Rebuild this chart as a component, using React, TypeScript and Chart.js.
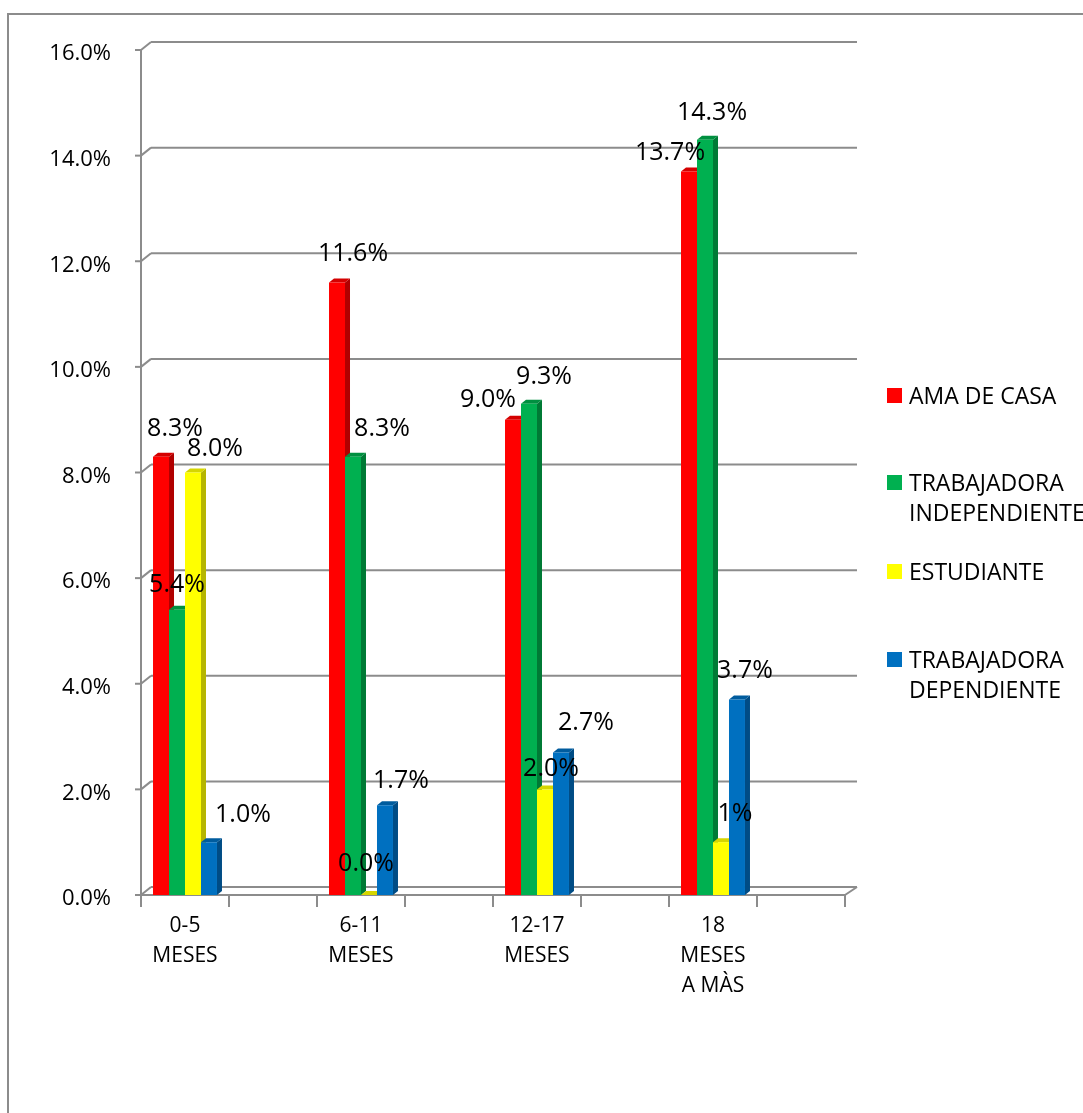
import React, { useEffect, useRef } from 'react';
import { Chart, registerables } from 'chart.js';

Chart.register(...registerables);

// ---------- data ----------
const CATEGORIES: (string | string[])[] = [
  ['0-5', 'MESES'], '',
  ['6-11', 'MESES'], '',
  ['12-17', 'MESES'], '',
  ['18', 'MESES', 'A MÀS'], '',
];
const SERIES_NAMES = ['AMA DE CASA', 'TRABAJADORA INDEPENDIENTE', 'ESTUDIANTE', 'TRABAJADORA DEPENDIENTE'];
const AMA_DE_CASA = [8.3, null, 11.6, null, 9.0, null, 13.7, null];
const TRAB_INDEPENDIENTE = [5.4, null, 8.3, null, 9.3, null, 14.3, null];
const ESTUDIANTE = [8.0, null, 0.0, null, 2.0, null, 1.0, null];
const TRAB_DEPENDIENTE = [1.0, null, 1.7, null, 2.7, null, 3.7, null];
const Y_MIN = 0;
const Y_MAX = 16;
const Y_STEP = 2;
// label text override (series index - category index)
const LABEL_TEXT_OVERRIDE: Record<string, string> = { '2-6': '1%' };

// ---------- style ----------
const FRONT = ['#FF0000', '#00B050', '#FFFF00', '#0070C0'];
const SIDE = ['#B00000', '#007A35', '#B5B500', '#004C85'];
const TOP = ['#D40000', '#009040', '#D6D600', '#005C9E'];
const GRID = '#8C8C8C';
const FONT = 'Open Sans';
const DX = 5;
const DY = 4;
const BACK_X = 10;
const BACK_Y = 8;
// label nudges [dx, dy] relative to bar centre / bar top, per series, per category
const LABEL_NUDGE: Record<string, [number, number]> = {
  '0-0': [14, -28], '0-2': [16, -29], '0-4': [-25, -20], '0-6': [-19, -19],
  '1-0': [0, -25], '1-2': [29, -28], '1-4': [15, -27], '1-6': [7, -27],
  '2-0': [22, -24], '2-2': [-3, -31], '2-4': [6, -21], '2-6': [14, -28],
  '3-0': [34, -27], '3-2': [16, -24], '3-4': [25, -30], '3-6': [8, -29],
};

const depthPlugin = {
  id: 'depth3d',
  beforeDatasetsDraw(chart: any) {
    const { ctx, chartArea } = chart;
    const { left, right, bottom } = chartArea;
    const ys = chart.scales.y;
    ctx.save();
    ctx.strokeStyle = GRID;
    ctx.lineWidth = 2;
    const line = (x1: number, y1: number, x2: number, y2: number) => {
      ctx.beginPath();
      ctx.moveTo(x1, y1);
      ctx.lineTo(x2, y2);
      ctx.stroke();
    };
    ys.ticks.forEach((t: any) => {
      const py = ys.getPixelForValue(t.value);
      line(left + BACK_X, py - BACK_Y, right + BACK_X + 2, py - BACK_Y);
      line(left, py, left + BACK_X, py - BACK_Y);
      line(left - 6, py, left, py);
    });
    line(right, bottom, right + BACK_X + 2, bottom - BACK_Y);

    chart.data.datasets.forEach((ds: any, di: number) => {
      const meta = chart.getDatasetMeta(di);
      meta.data.forEach((bar: any, i: number) => {
        if (ds.data[i] == null) return;
        const p = bar.getProps(['x', 'y', 'base', 'width'], true);
        const l = p.x - p.width / 2;
        const r = p.x + p.width / 2;
        ctx.fillStyle = SIDE[di];
        ctx.beginPath();
        ctx.moveTo(r, p.y);
        ctx.lineTo(r + DX, p.y - DY);
        ctx.lineTo(r + DX, p.base - DY);
        ctx.lineTo(r, p.base);
        ctx.closePath();
        ctx.fill();
        ctx.fillStyle = TOP[di];
        ctx.beginPath();
        ctx.moveTo(l, p.y);
        ctx.lineTo(l + DX, p.y - DY);
        ctx.lineTo(r + DX, p.y - DY);
        ctx.lineTo(r, p.y);
        ctx.closePath();
        ctx.fill();
      });
    });
    ctx.restore();
  },
  afterDatasetsDraw(chart: any) {
    const { ctx } = chart;
    ctx.save();
    ctx.fillStyle = '#000';
    ctx.font = `25px "${FONT}"`;
    ctx.textAlign = 'center';
    ctx.textBaseline = 'middle';
    chart.data.datasets.forEach((ds: any, di: number) => {
      const meta = chart.getDatasetMeta(di);
      meta.data.forEach((bar: any, i: number) => {
        const v = ds.data[i];
        if (v == null) return;
        const key = `${di}-${i}`;
        const text = LABEL_TEXT_OVERRIDE[key] ?? `${v.toFixed(1)}%`;
        const [nx, ny] = LABEL_NUDGE[key] ?? [0, -25];
        ctx.fillText(text, bar.x + nx, bar.y + ny);
      });
    });
    ctx.restore();
  },
};

const LEGEND_ITEMS: { lines: string[]; top: number }[] = [
  { lines: ['AMA DE CASA'], top: 380 },
  { lines: ['TRABAJADORA', 'INDEPENDIENTE'], top: 467 },
  { lines: ['ESTUDIANTE'], top: 556 },
  { lines: ['TRABAJADORA', 'DEPENDIENTE'], top: 644 },
];

export default function App() {
  const ref = useRef<HTMLCanvasElement | null>(null);

  useEffect(() => {
    if (!ref.current) return;
    Chart.defaults.font.family = FONT;
    const seriesData = [AMA_DE_CASA, TRAB_INDEPENDIENTE, ESTUDIANTE, TRAB_DEPENDIENTE];
    const chart = new Chart(ref.current, {
      type: 'bar',
      data: {
        labels: CATEGORIES as any,
        datasets: seriesData.map((d, i) => ({
          label: SERIES_NAMES[i],
          data: d as any,
          backgroundColor: FRONT[i],
          borderWidth: 0,
          categoryPercentage: 0.727,
          barPercentage: 1.0,
        })),
      },
      options: {
        responsive: false,
        animation: false,
        layout: { padding: { left: 0, top: 50, right: 238, bottom: 0 } },
        plugins: { legend: { display: false }, tooltip: { enabled: false } },
        scales: {
          x: {
            grid: {
              display: true,
              drawOnChartArea: false,
              drawTicks: true,
              tickLength: 12,
              color: GRID,
              lineWidth: 2,
              offset: true,
            },
            border: { display: true, color: GRID, width: 2 },
            ticks: {
              font: { family: FONT, size: 21, lineHeight: 1.42 },
              color: '#000',
              padding: 4,
              maxRotation: 0,
              autoSkip: false,
            },
            afterFit: (s: any) => { s.height = 218; },
          },
          y: {
            min: Y_MIN,
            max: Y_MAX,
            ticks: {
              stepSize: Y_STEP,
              callback: (v: any) => `${Number(v).toFixed(1)}%`,
              font: { family: FONT, size: 22 },
              color: '#000',
              padding: 22,
              labelOffset: 4,
            },
            grid: { display: false },
            border: { display: true, color: GRID, width: 2 },
            afterFit: (s: any) => { s.width = 141; },
          },
        },
      },
      plugins: [depthPlugin],
    });
    return () => chart.destroy();
  }, []);

  return (
    <div style={{ position: 'absolute', left: 0, top: 0, width: 1083, height: 1113, overflow: 'hidden', background: '#fff' }}>
      <div style={{ position: 'absolute', left: 7, top: 13, width: 1200, height: 1200, border: '2px solid #8C8C8C', boxSizing: 'border-box' }} />
      <canvas ref={ref} width={1083} height={1113} style={{ position: 'absolute', left: 0, top: 0, display: 'block' }} />
      {LEGEND_ITEMS.map((it, i) => (
        <div key={i} style={{ position: 'absolute', left: 887, top: it.top, fontFamily: FONT, fontSize: 23, lineHeight: '30px', color: '#000', whiteSpace: 'nowrap' }}>
          <span style={{ position: 'absolute', left: 0, top: 8, width: 15, height: 15, background: FRONT[i] }} />
          {it.lines.map((ln, j) => (
            <div key={j} style={{ paddingLeft: 22 }}>{ln}</div>
          ))}
        </div>
      ))}
    </div>
  );
}
